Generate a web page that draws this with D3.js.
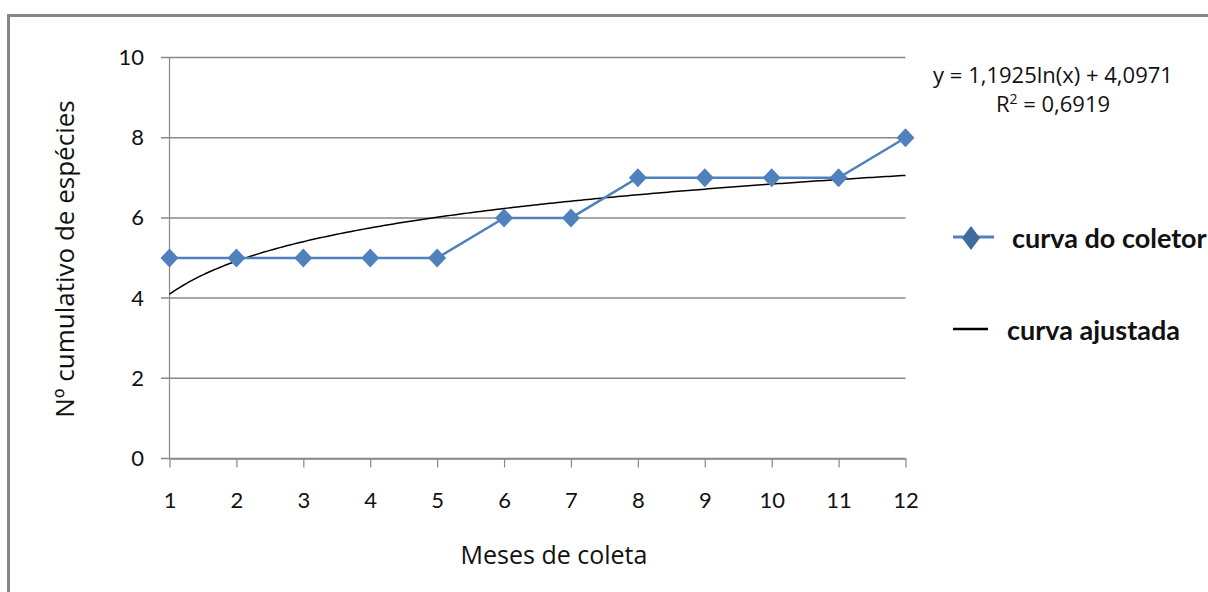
<!DOCTYPE html>
<html>
<head>
<meta charset="utf-8">
<script src="https://cdn.jsdelivr.net/npm/d3@7"></script>
<style>
  html, body { margin: 0; padding: 0; background: #fff; }
  svg { display: block; font-family: "Open Sans", "Lato", sans-serif; }
</style>
</head>
<body>
<svg id="chart" width="1208" height="592"></svg>
<script>
// Cumulative species count per collection month
const months = [1, 2, 3, 4, 5, 6, 7, 8, 9, 10, 11, 12];
const speciesCumulative = [5, 5, 5, 5, 5, 6, 6, 7, 7, 7, 7, 8];
const yTicks = [0, 2, 4, 6, 8, 10];

// Logarithmic trend coefficients (y = a ln(x) + b)
const trendA = 1.1925;
const trendB = 4.0971;
const trendR2 = "0,6919";

const svg = d3.select("#chart");
const blue = "#4F81BD";
const textCol = "#111";

// Chart frame
svg.append("path")
  .attr("d", "M8.5,600 V15.5 H1220")
  .attr("fill", "none")
  .attr("stroke", "#868686")
  .attr("stroke-width", 3);

const x = d3.scaleLinear().domain([1, 12]).range([169.5, 905.5]);
const y = d3.scaleLinear().domain([0, 10]).range([458.5, 57.5]);

// Horizontal gridlines with outer tick stubs
svg.append("g")
  .selectAll("line")
  .data(yTicks)
  .join("line")
  .attr("x1", 161)
  .attr("x2", x(12))
  .attr("y1", d => y(d))
  .attr("y2", d => y(d))
  .attr("stroke", "#888")
  .attr("stroke-width", 1.5);

// Y axis line
svg.append("line")
  .attr("x1", x(1)).attr("x2", x(1))
  .attr("y1", y(10)).attr("y2", y(0))
  .attr("stroke", "#888").attr("stroke-width", 1.2);

// Y tick labels
svg.append("g")
  .selectAll("text")
  .data(yTicks)
  .join("text")
  .attr("x", 144)
  .attr("y", d => y(d) + 7.5)
  .attr("text-anchor", "end")
  .attr("font-family", "Lato, sans-serif")
  .attr("font-size", 22)
  .attr("fill", textCol)
  .text(d => d);

// X ticks and labels
const xAxis = d3.axisBottom(x).tickValues(months).tickSize(9).tickSizeOuter(0).tickFormat(d3.format("d"));
const gx = svg.append("g").attr("transform", `translate(0,${y(0)})`).call(xAxis);
gx.select(".domain").attr("stroke", "#888").attr("stroke-width", 1.5);
gx.selectAll(".tick line").attr("stroke", "#888").attr("stroke-width", 1.2);
gx.selectAll(".tick text")
  .attr("y", 49.5)
  .attr("dy", 0)
  .attr("font-size", 22)
  .attr("font-family", "Lato, sans-serif")
  .attr("fill", textCol);

// Axis titles
svg.append("text")
  .attr("x", 554).attr("y", 564)
  .attr("text-anchor", "middle")
  .attr("font-size", 25)
  .attr("fill", textCol)
  .text("Meses de coleta");

svg.append("text")
  .attr("transform", "translate(74,259) rotate(-90)")
  .attr("text-anchor", "middle")
  .attr("font-size", 26)
  .attr("fill", textCol)
  .text("Nº cumulativo de espécies");

// Fitted logarithmic curve
const trendPts = d3.range(1, 12.001, 0.05).map(t => [t, trendA * Math.log(t) + trendB]);
svg.append("path")
  .datum(trendPts)
  .attr("fill", "none")
  .attr("stroke", "#000")
  .attr("stroke-width", 1.5)
  .attr("d", d3.line().x(d => x(d[0])).y(d => y(d[1])));

// Collector's curve
const series = months.map((m, i) => [m, speciesCumulative[i]]);
svg.append("path")
  .datum(series)
  .attr("fill", "none")
  .attr("stroke", blue)
  .attr("stroke-width", 2.5)
  .attr("d", d3.line().x(d => x(d[0])).y(d => y(d[1])));

// Diamond marker path: half-width w, half-height h
const diamondPath = (w, h) => `M0,${-h}L${w},0L0,${h}L${-w},0Z`;
svg.append("g")
  .selectAll("path")
  .data(series)
  .join("path")
  .attr("transform", d => `translate(${x(d[0])},${y(d[1])})`)
  .attr("d", diamondPath(9, 9.5))
  .attr("fill", blue);

// Trend equation
svg.append("text")
  .attr("x", 1053).attr("y", 83)
  .attr("text-anchor", "middle")
  .attr("font-size", 22)
  .attr("fill", textCol)
  .text(`y = ${String(trendA).replace(".", ",")}ln(x) + ${String(trendB).replace(".", ",")}`);
const r2 = svg.append("text")
  .attr("x", 1053).attr("y", 112)
  .attr("text-anchor", "middle")
  .attr("font-size", 22)
  .attr("fill", textCol);
r2.append("tspan").text("R");
r2.append("tspan").attr("font-size", 14).attr("dy", -8).text("2");
r2.append("tspan").attr("dy", 8).text(` = ${trendR2}`);

// Legend
const legend = svg.append("g");
legend.append("line")
  .attr("x1", 953).attr("x2", 994).attr("y1", 237).attr("y2", 237)
  .attr("stroke", blue).attr("stroke-width", 3);
legend.append("path")
  .attr("transform", "translate(971,238)")
  .attr("d", diamondPath(9, 12))
  .attr("fill", "#3E6C9F");
legend.append("text")
  .attr("x", 1012).attr("y", 248)
  .attr("font-family", "Lato, sans-serif")
  .attr("font-size", 27)
  .attr("font-weight", "bold")
  .attr("fill", textCol)
  .text("curva do coletor");
legend.append("line")
  .attr("x1", 953).attr("x2", 988).attr("y1", 329).attr("y2", 329)
  .attr("stroke", "#000").attr("stroke-width", 2.5);
legend.append("text")
  .attr("x", 1007).attr("y", 340)
  .attr("font-family", "Lato, sans-serif")
  .attr("font-size", 27)
  .attr("font-weight", "bold")
  .attr("fill", textCol)
  .text("curva ajustada");
</script>
</body>
</html>
